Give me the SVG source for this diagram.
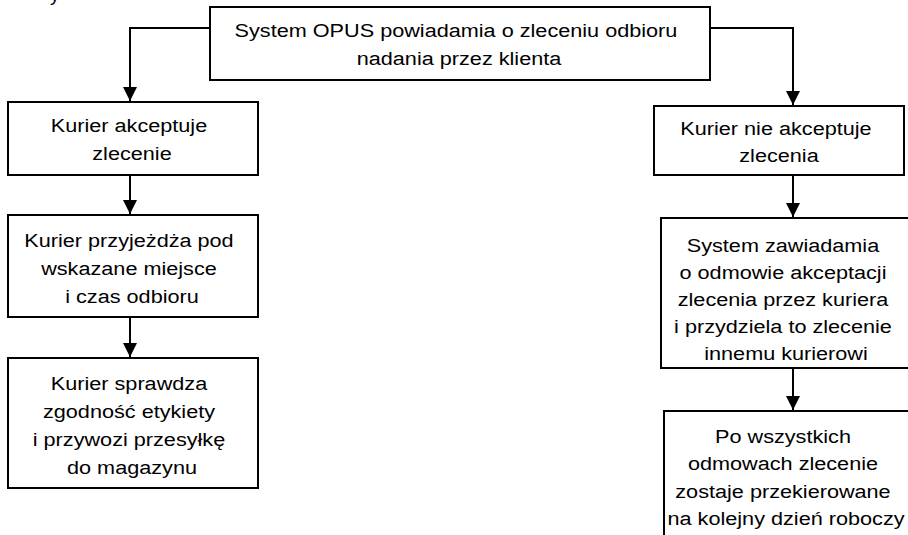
<svg xmlns="http://www.w3.org/2000/svg" width="908" height="535" viewBox="0 0 908 535">
  <style>
    .box { fill: #ffffff; stroke: #000000; stroke-width: 2; }
    .lbl { font-family: "Liberation Sans", Arial, sans-serif; font-size: 19px; fill: #000000; text-anchor: middle; }
    .edge { fill: none; stroke: #000000; stroke-width: 2; }
  </style>
  <defs>
    <marker id="arrow" viewBox="0 0 14 14" refX="14" refY="7" markerWidth="14" markerHeight="14" markerUnits="userSpaceOnUse" orient="auto">
      <path d="M0,0 L14,7 L0,14 Z" fill="#000000"/>
    </marker>
  </defs>
  <rect x="0" y="0" width="908" height="535" fill="#ffffff"/>

  <!-- tail of a line of text above the chart -->
  <text class="lbl" style="text-anchor:start" x="50" y="1">y</text>

  <!-- connectors -->
  <g id="connectors">
    <path class="edge" d="M210,28 H130 V101" marker-end="url(#arrow)"/>
    <path class="edge" d="M710,28 H793 V105" marker-end="url(#arrow)"/>
    <path class="edge" d="M130,175 V214" marker-end="url(#arrow)"/>
    <path class="edge" d="M130,317 V357" marker-end="url(#arrow)"/>
    <path class="edge" d="M793,175 V217" marker-end="url(#arrow)"/>
    <path class="edge" d="M793,368 V410" marker-end="url(#arrow)"/>
  </g>

  <!-- top: notification -->
  <g id="notify">
    <rect class="box" x="210" y="7" width="500" height="73"/>
    <text class="lbl" transform="matrix(1.14 0 0 1 459 0)">
      <tspan x="0" y="37">System OPUS powiadamia o zleceniu odbioru</tspan>
      <tspan x="0" y="65">nadania przez klienta</tspan>
    </text>
  </g>

  <!-- left branch -->
  <g id="accept">
    <rect class="box" x="8" y="102" width="250" height="73"/>
    <text class="lbl" transform="matrix(1.14 0 0 1 132 0)">
      <tspan x="0" y="132">Kurier akceptuje</tspan>
      <tspan x="0" y="160">zlecenie</tspan>
    </text>
  </g>
  <g id="arrive">
    <rect class="box" x="8" y="215" width="250" height="102"/>
    <text class="lbl" transform="matrix(1.14 0 0 1 132 0)">
      <tspan x="0" y="247">Kurier przyjeżdża pod</tspan>
      <tspan x="0" y="275">wskazane miejsce</tspan>
      <tspan x="0" y="303">i czas odbioru</tspan>
    </text>
  </g>
  <g id="check">
    <rect class="box" x="8" y="358" width="250" height="130"/>
    <text class="lbl" transform="matrix(1.14 0 0 1 132 0)">
      <tspan x="0" y="390">Kurier sprawdza</tspan>
      <tspan x="0" y="418">zgodność etykiety</tspan>
      <tspan x="0" y="446">i przywozi przesyłkę</tspan>
      <tspan x="0" y="474">do magazynu</tspan>
    </text>
  </g>

  <!-- right branch -->
  <g id="reject">
    <rect class="box" x="654" y="106" width="250" height="69"/>
    <text class="lbl" transform="matrix(1.14 0 0 1 779 0)">
      <tspan x="0" y="135">Kurier nie akceptuje</tspan>
      <tspan x="0" y="162">zlecenia</tspan>
    </text>
  </g>
  <g id="reassign">
    <rect class="box" x="661" y="218" width="252" height="150"/>
    <text class="lbl" transform="matrix(1.14 0 0 1 786 0)">
      <tspan x="0" y="252">System zawiadamia</tspan>
      <tspan x="0" y="279">o odmowie akceptacji</tspan>
      <tspan x="0" y="306">zlecenia przez kuriera</tspan>
      <tspan x="0" y="333">i przydziela to zlecenie</tspan>
      <tspan x="0" y="360">innemu kurierowi</tspan>
    </text>
  </g>
  <g id="postpone">
    <rect class="box" x="664" y="411" width="252" height="140"/>
    <text class="lbl" transform="matrix(1.14 0 0 1 786 0)">
      <tspan x="0" y="443">Po wszystkich</tspan>
      <tspan x="0" y="470.5">odmowach zlecenie</tspan>
      <tspan x="0" y="498">zostaje przekierowane</tspan>
      <tspan x="0" y="525.5">na kolejny dzień roboczy</tspan>
    </text>
  </g>
</svg>
